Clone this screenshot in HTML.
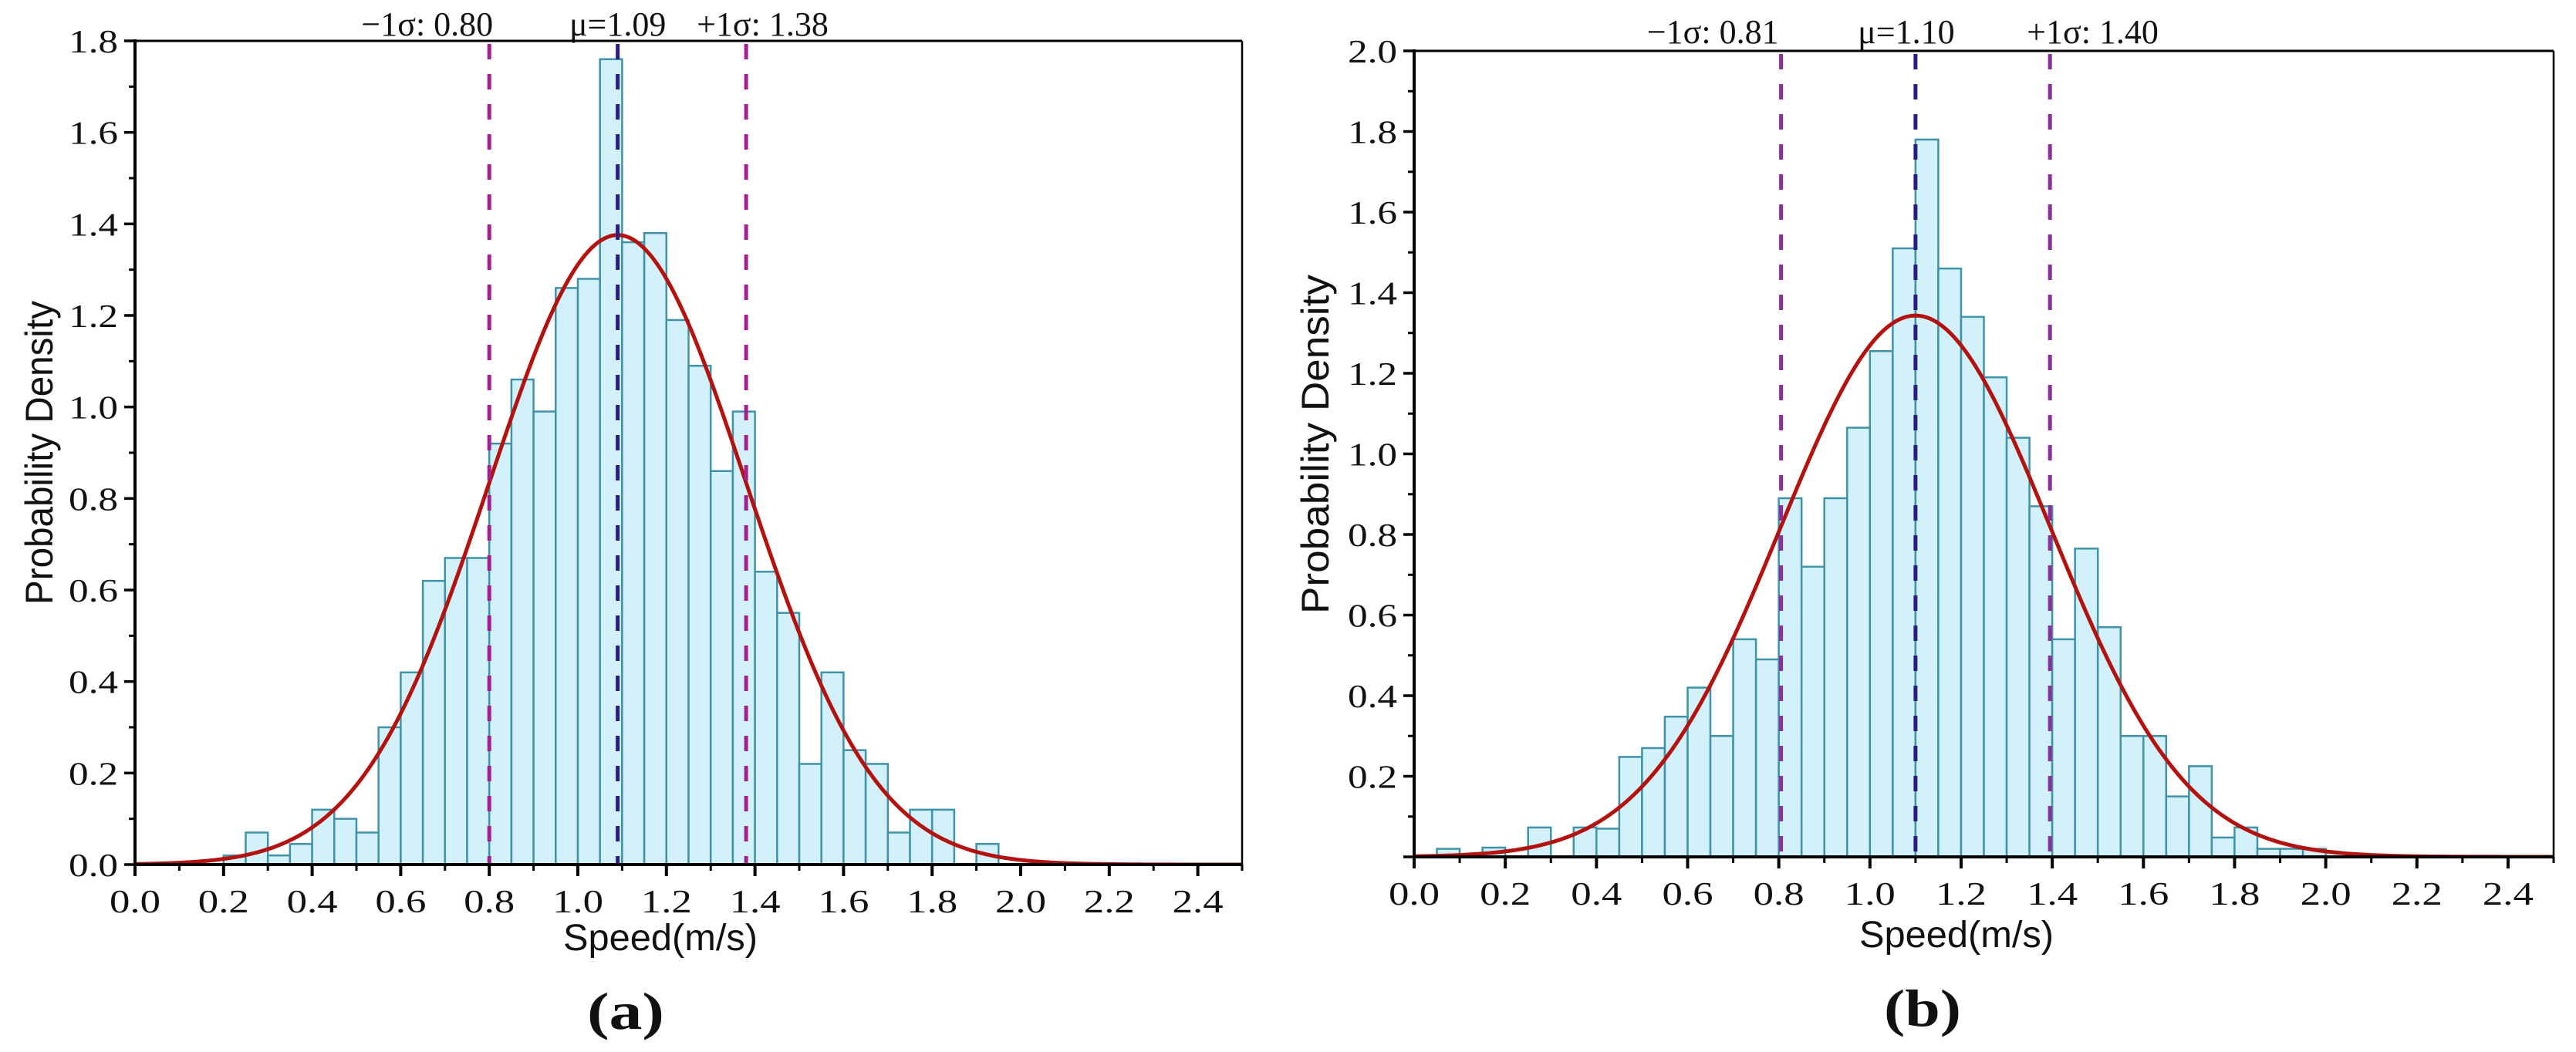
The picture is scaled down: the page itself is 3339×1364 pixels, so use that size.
<!DOCTYPE html>
<html><head><meta charset="utf-8"><title>Speed distributions</title>
<style>
html,body{margin:0;padding:0;background:#fff;}
svg{display:block;}
text{font-family:"Liberation Serif","Noto Serif CJK SC",serif;fill:#111;}
</style></head>
<body>
<svg id="fig" width="3339" height="1364" viewBox="0 0 3339 1364" xmlns="http://www.w3.org/2000/svg">
<rect width="3339" height="1364" fill="#fff"/>
<g id="chartA"></g>
<g id="chartB"></g>
</svg>
<script>
// ---- data: chart (a) ----
const binStartsA = [0.20,0.25,0.30,0.35,0.40,0.45,0.50,0.55,0.60,0.65,0.70,0.75,0.80,0.85,0.90,0.95,1.00,1.05,1.10,1.15,1.20,1.25,1.30,1.35,1.40,1.45,1.50,1.55,1.60,1.65,1.70,1.75,1.80,1.85,1.90];
const densityA   = [0.02,0.07,0.02,0.045,0.12,0.10,0.07,0.30,0.42,0.62,0.67,0.67,0.92,1.06,0.99,1.26,1.28,1.76,1.36,1.38,1.19,1.09,0.86,0.99,0.64,0.55,0.22,0.42,0.25,0.22,0.07,0.12,0.12,0,0.045];
const muA = 1.09;
const sigmaA = 0.29;
const yTicksA = [0.0,0.2,0.4,0.6,0.8,1.0,1.2,1.4,1.6,1.8];
const yTickLabelsA = ["0.0","0.2","0.4","0.6","0.8","1.0","1.2","1.4","1.6","1.8"];
// ---- data: chart (b) ----
const binStartsB = [0.05,0.15,0.25,0.35,0.40,0.45,0.50,0.55,0.60,0.65,0.70,0.75,0.80,0.85,0.90,0.95,1.00,1.05,1.10,1.15,1.20,1.25,1.30,1.35,1.40,1.45,1.50,1.55,1.60,1.65,1.70,1.75,1.80,1.85,1.90,1.95];
const densityB   = [0.02,0.023,0.073,0.073,0.07,0.248,0.27,0.348,0.42,0.30,0.54,0.49,0.89,0.72,0.89,1.065,1.255,1.51,1.78,1.46,1.34,1.19,1.04,0.87,0.54,0.765,0.57,0.30,0.30,0.15,0.225,0.048,0.073,0.02,0.02,0.02];
const muB = 1.10;
const sigmaB = 0.297;
const yTicksB = [0.2,0.4,0.6,0.8,1.0,1.2,1.4,1.6,1.8,2.0];
const yTickLabelsB = ["0.2","0.4","0.6","0.8","1.0","1.2","1.4","1.6","1.8","2.0"];
// ---- shared ----
const xTicks = [0.0,0.2,0.4,0.6,0.8,1.0,1.2,1.4,1.6,1.8,2.0,2.2,2.4];
const xTickLabels = ["0.0","0.2","0.4","0.6","0.8","1.0","1.2","1.4","1.6","1.8","2.0","2.2","2.4"];
const binWidth = 0.05;
const sigmaLabelsA = ["\u22121\u03c3: 0.80","\u03bc=1.09","+1\u03c3: 1.38"];
const sigmaLabelsB = ["\u22121\u03c3: 0.81","\u03bc=1.10","+1\u03c3: 1.40"];

const NS = "http://www.w3.org/2000/svg";
function mk(tag, attrs, parent){
  const e = document.createElementNS(NS, tag);
  for (const k in attrs) e.setAttribute(k, attrs[k]);
  parent.appendChild(e);
  return e;
}

function drawChart(g, cfg){
  const L = cfg.left, R = cfg.right, T = cfg.top, B = cfg.bottom;
  const xScale = v => L + (v - 0) / 2.5 * (R - L);
  const yScale = v => B - v / cfg.yMax * (B - T);
  const clipId = cfg.id + "-clip";
  const defs = mk("defs", {}, g);
  const cp = mk("clipPath", {id: clipId}, defs);
  mk("rect", {x: L, y: T, width: R - L, height: B - T}, cp);

  const bars = mk("g", {}, g);
  
  
  for (let i = 0; i < cfg.bins.length; i++){
    if (cfg.vals[i] <= 0) continue;
    const x0 = xScale(cfg.bins[i]), x1 = xScale(cfg.bins[i] + binWidth);
    const y = yScale(cfg.vals[i]);
    const r = mk("rect", {x: x0, y: y, width: x1 - x0, height: B - y, fill: "#d3f1fa", stroke: "#3f93a8", "stroke-width": 2.5}, bars);
    
    
  }

  let d = "";
  for (let k = 0; k <= 500; k++){
    const xv = 2.5 * k / 500;
    const yv = Math.exp(-0.5 * Math.pow((xv - cfg.mu) / cfg.sigma, 2)) / (cfg.sigma * Math.sqrt(2 * Math.PI));
    d += (k ? "L" : "M") + xScale(xv).toFixed(2) + "," + yScale(yv).toFixed(2);
  }
  const curve = mk("path", {d: d, fill: "none", stroke: "#b3120f", "stroke-width": 5, "clip-path": "url(#" + clipId + ")"}, g);
  
  

  const lineVals = [cfg.mu - cfg.sigmaShown, cfg.mu, cfg.mu + cfg.sigmaShown];
  const lineNames = ['minus-sigma-line', 'mean-line', 'plus-sigma-line'];
  const lineColors = [cfg.sigColor, "#2a1d82", cfg.sigColor];
  for (let i = 0; i < 3; i++){
    const x = xScale(lineVals[i]);
    const ln = mk("line", {x1: x, x2: x, y1: T + 4, y2: B, stroke: lineColors[i], "stroke-width": 5, "stroke-dasharray": "20 19"}, g);
    
    
    const lbl = mk("text", {x: x + cfg.labelDx[i], y: cfg.labelY, "font-size": 44, "text-anchor": cfg.labelAnchor[i]}, g);
    lbl.textContent = cfg.labels[i];
    
    
  }

  const sp = mk("g", {stroke: "#000", fill: "none"}, g);
  
  
  mk("line", {x1: L, x2: R, y1: T, y2: T, "stroke-width": 3}, sp);
  mk("line", {x1: R, x2: R, y1: T, y2: B, "stroke-width": 2.5}, sp);
  mk("line", {x1: L, x2: L, y1: T - 2, y2: B + 2, "stroke-width": 4}, sp);
  mk("line", {x1: L - 2, x2: R + 1, y1: B, y2: B, "stroke-width": 4}, sp);

  const xt = mk("g", {}, g);
  
  
  for (let i = 0; i < xTicks.length; i++){
    const x = xScale(xTicks[i]);
    mk("line", {x1: x, x2: x, y1: B, y2: B + 15, stroke: "#000", "stroke-width": 4}, xt);
    const mx = xScale(xTicks[i] + 0.1);
    if (mx <= R + 1) mk("line", {x1: mx, x2: mx, y1: B, y2: B + 8, stroke: "#000", "stroke-width": 3}, xt);
    const t = mk("text", {x: x, y: B + 62, "font-size": 42, "text-anchor": "middle", textLength: 66, lengthAdjust: "spacingAndGlyphs"}, xt);
    t.textContent = xTickLabels[i];
    
    
  }
  const yt = mk("g", {}, g);
  
  
  for (let i = 0; i < cfg.yTicks.length; i++){
    const y = yScale(cfg.yTicks[i]);
    mk("line", {x1: L - 14, x2: L, y1: y, y2: y, stroke: "#000", "stroke-width": 3.5}, yt);
    const t = mk("text", {x: L - 22, y: y + 15, "font-size": 42, "text-anchor": "end", textLength: 64, lengthAdjust: "spacingAndGlyphs"}, yt);
    t.textContent = cfg.yLabels[i];
    
    
  }
  for (let v = 0.1; v < cfg.yMax; v += 0.2){
    const y = yScale(v);
    mk("line", {x1: L - 8, x2: L, y1: y, y2: y, stroke: "#000", "stroke-width": 3}, yt);
  }
  if (cfg.yTicks[0] > 0){ mk("line", {x1: L - 14, x2: L, y1: B, y2: B, stroke: "#000", "stroke-width": 3.5}, yt); }

  const xtitle = mk("text", {x: cfg.xTitleX, y: cfg.xTitleY, "font-size": 48, "text-anchor": "middle", textLength: 252, lengthAdjust: "spacingAndGlyphs", style: 'font-family:"Liberation Sans",sans-serif'}, g);
  xtitle.textContent = "Speed(m/s)";
  
  
  const ytitle = mk("text", {x: 0, y: 0, "font-size": 50, "text-anchor": "middle", textLength: cfg.yTitleLen, lengthAdjust: "spacingAndGlyphs", transform: "translate(" + cfg.yTitleX + "," + cfg.yTitleY + ") rotate(-90)", style: 'font-family:"Liberation Sans",sans-serif'}, g);
  ytitle.textContent = "Probability Density";
  
  
  const pl = mk("text", {x: cfg.panelX, y: cfg.panelY, "font-size": 68, "font-weight": "bold", "text-anchor": "middle", textLength: 100, lengthAdjust: "spacingAndGlyphs"}, g);
  pl.textContent = cfg.panel;
  
  
}

drawChart(document.getElementById("chartA"), {
  id: "a", left: 175, right: 1610, top: 53, bottom: 1121, yMax: 1.8,
  bins: binStartsA, vals: densityA, mu: muA, sigma: sigmaA, sigmaShown: 0.29,
  yTicks: yTicksA, yLabels: yTickLabelsA, sigColor: "#a3208f",
  labels: sigmaLabelsA, labelDx: [5, 0, -64], labelAnchor: ["end", "middle", "start"], labelY: 46,
  xTitleX: 856, xTitleY: 1232, yTitleX: 68, yTitleY: 587, yTitleLen: 394,
  panelX: 811, panelY: 1334, panel: "(a)"
});
drawChart(document.getElementById("chartB"), {
  id: "b", left: 1833, right: 3310, top: 66, bottom: 1111, yMax: 2.0,
  bins: binStartsB, vals: densityB, mu: muB, sigma: sigmaB, sigmaShown: 0.295,
  yTicks: yTicksB, yLabels: yTickLabelsB, sigColor: "#8b2f9c",
  labels: sigmaLabelsB, labelDx: [-3, -12, -30], labelAnchor: ["end", "middle", "start"], labelY: 56,
  xTitleX: 2536, xTitleY: 1228, yTitleX: 1722, yTitleY: 576, yTitleLen: 440,
  panelX: 2492, panelY: 1330, panel: "(b)"
});
</script>
</body></html>
